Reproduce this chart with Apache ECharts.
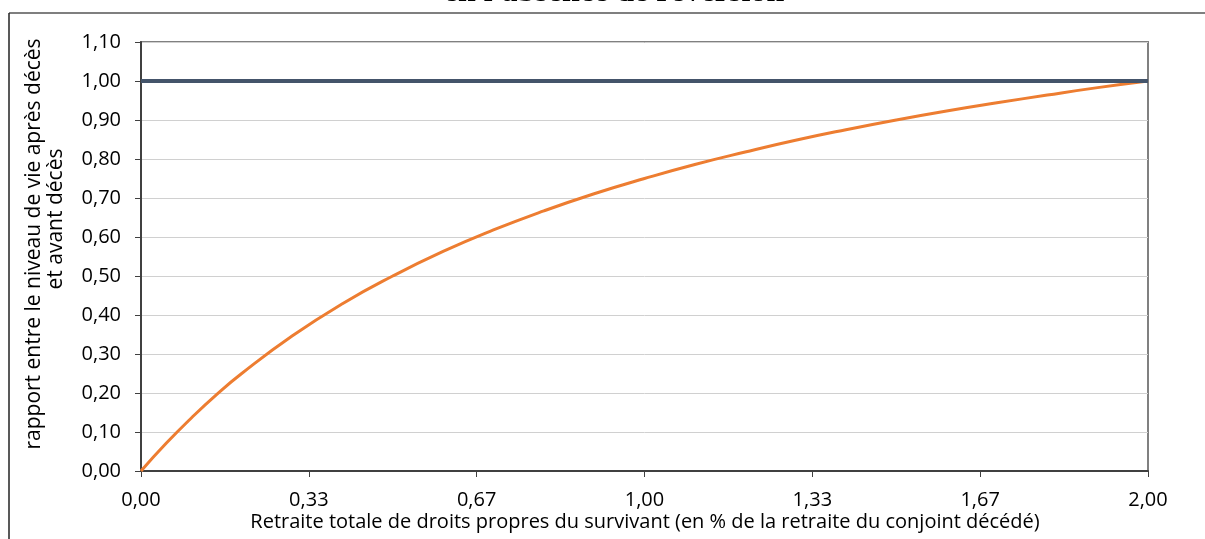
<!DOCTYPE html>
<html><head><meta charset="utf-8">
<script src="https://cdn.jsdelivr.net/npm/echarts@6/dist/echarts.min.js"></script>
<style>html,body{margin:0;padding:0;background:#fff}#c{width:1205px;height:539px}</style>
</head><body><div id="c"></div>
<script>
const titleText = "en l'absence de réversion";
const yAxisTitleLines = ["rapport entre le niveau de vie après décès", "et avant décès"];
const xAxisTitle = "Retraite totale de droits propres du survivant (en % de la retraite du conjoint décédé)";
const xValues = [0, 0.05, 0.1, 0.15, 0.2, 0.3, 0.4, 0.5, 0.6, 0.7, 0.8, 0.9, 1.0, 1.1, 1.2, 1.3, 1.4, 1.5, 1.6, 1.7, 1.8, 1.9, 2.0];
const orangeValues = [0, 0.071, 0.136, 0.196, 0.25, 0.346, 0.429, 0.5, 0.563, 0.618, 0.667, 0.711, 0.75, 0.786, 0.818, 0.848, 0.875, 0.9, 0.923, 0.944, 0.964, 0.983, 1.0];
const blueX = [0, 2];
const blueValues = [1.0, 1.0];

const fmt = v => Number(v).toFixed(2).replace('.', ',');
const font = "'Open Sans', sans-serif";
const chart = echarts.init(document.getElementById('c'));
chart.setOption({
  animation: false,
  grid: { left: 141, right: 57, top: 42, bottom: 68, show: true, borderColor: '#808080', borderWidth: 2, backgroundColor: 'transparent' },
  xAxis: {
    type: 'value', min: 0, max: 2, interval: 1/3,
    axisLine: { show: true, lineStyle: { color: '#404040', width: 2 } },
    axisTick: { show: true, length: 6, lineStyle: { color: '#404040', width: 1 } },
    axisLabel: { formatter: fmt, margin: 19, fontFamily: font, fontSize: 20, color: '#000' },
    splitLine: { show: false }
  },
  yAxis: {
    type: 'value', min: 0, max: 1.1, interval: 0.1,
    axisLine: { show: true, lineStyle: { color: '#404040', width: 2 } },
    axisTick: { show: true, length: 6, lineStyle: { color: '#404040', width: 1 } },
    axisLabel: { formatter: fmt, margin: 20, fontFamily: font, fontSize: 20, color: '#000' },
    splitLine: { show: true, lineStyle: { color: '#d0d0d0', width: 1 } }
  },
  series: [
    { type: 'line', data: xValues.map((x, i) => [x, orangeValues[i]]), smooth: true, symbol: 'none',
      lineStyle: { color: '#ed7d31', width: 3 }, z: 3 },
    { type: 'line', data: blueX.map((x, i) => [x, blueValues[i]]), symbol: 'none',
      lineStyle: { color: '#44546a', width: 4 }, z: 4 }
  ],
  graphic: [
    { type: 'line', shape: { x1: 9, y1: 13, x2: 1205, y2: 13 }, style: { stroke: '#7f7f7f', lineWidth: 2 } },
    { type: 'line', shape: { x1: 9, y1: 13, x2: 9, y2: 539 }, style: { stroke: '#222', lineWidth: 1.5 } },
    { type: 'text', x: 614, y: 9, style: { text: titleText, font: "bold 32px 'Liberation Serif', serif", fill: '#000', textAlign: 'center', textVerticalAlign: 'bottom' } },
    { type: 'text', x: 34, y: 244, rotation: Math.PI / 2, style: { text: yAxisTitleLines[0], font: "21px " + font, fill: '#000', textAlign: 'center', textVerticalAlign: 'middle' } },
    { type: 'text', x: 56, y: 219, rotation: Math.PI / 2, style: { text: yAxisTitleLines[1], font: "21px " + font, fill: '#000', textAlign: 'center', textVerticalAlign: 'middle' } },
    { type: 'text', x: 645, y: 522, style: { text: xAxisTitle, font: "20px " + font, fill: '#000', textAlign: 'center', textVerticalAlign: 'middle' } }
  ]
});
</script></body></html>
